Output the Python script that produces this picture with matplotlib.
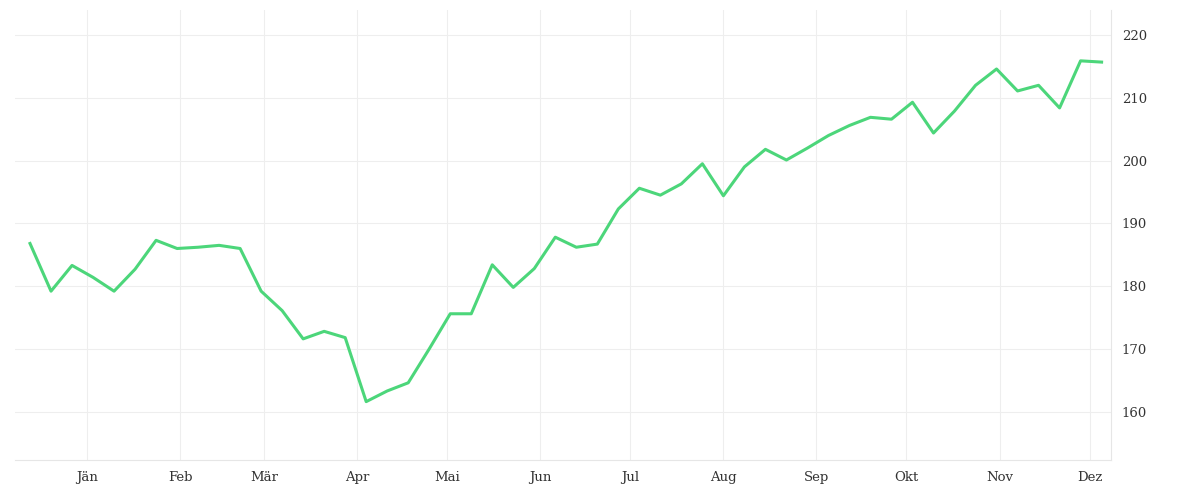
import matplotlib
matplotlib.use("Agg")
import matplotlib.pyplot as plt
import matplotlib.dates as mdates
import numpy as np
import pandas as pd

dates = pd.date_range("2017-12-13", periods=52, freq="7D")
values = [186.8,179.2,183.3,181.4,179.2,182.7,187.3,186.0,186.2,186.5,186.0,179.2,176.1,171.6,172.8,171.8,
          161.6,163.3,164.6,170.0,175.6,175.6,183.4,179.8,182.8,187.8,186.2,186.7,192.3,195.6,194.5,196.3,
          199.5,194.4,199.0,201.8,200.1,202.0,204.0,205.6,206.9,206.6,209.3,204.4,207.9,212.0,214.6,211.1,
          212.0,208.4,215.9,215.7]
month_labels = ["Jän","Feb","Mär","Apr","Mai","Jun","Jul","Aug","Sep","Okt","Nov","Dez"]
month_ticks = pd.date_range("2018-01-01", periods=12, freq="MS")

plt.rcParams['font.family'] = ['DejaVu Serif']
fig = plt.figure(figsize=(12, 5), dpi=100)
ax = fig.add_axes([0.0125, 0.08, 0.913, 0.90])
ax.plot(dates, values, color="#4cd67a", lw=2.2)
ax.set_ylim(152.3, 224)
ax.set_xlim(pd.Timestamp("2017-12-08"), pd.Timestamp("2018-12-08"))
ax.set_xticks(month_ticks)
ax.set_xticklabels(month_labels)
ax.set_yticks([160,170,180,190,200,210,220])
ax.yaxis.tick_right()
ax.grid(True, color="#eeeeee", lw=0.8)
for s in ["top","left"]:
    ax.spines[s].set_visible(False)
ax.spines["right"].set_color("#e6e6e6")
ax.spines["bottom"].set_color("#e6e6e6")
ax.tick_params(length=0, labelsize=9.5, colors="#333333", pad=8)
fig.savefig("out.png")
